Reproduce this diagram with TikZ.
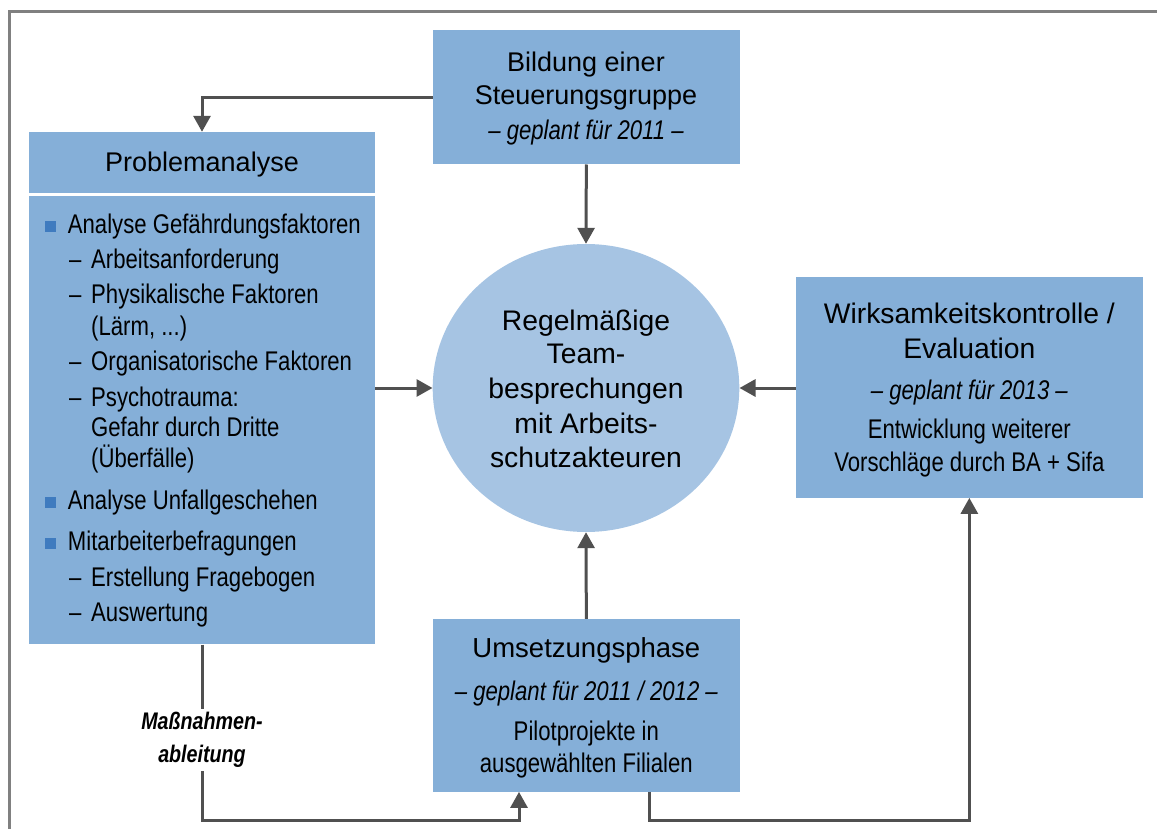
\documentclass[tikz,border=0pt]{standalone}
\usepackage{fontspec}
\setmainfont{Liberation Sans}
\newfontfamily\narrowfont{Liberation Sans}[FakeStretch=0.82]
\usetikzlibrary{arrows.meta,shapes.geometric}

\definecolor{boxblue}{HTML}{85AFD8}
\definecolor{circblue}{HTML}{A6C4E3}
\definecolor{bulletblue}{HTML}{3F7BBF}
\definecolor{arrowgray}{HTML}{505050}
\definecolor{framegray}{HTML}{808080}

\begin{document}
\begin{tikzpicture}[x=1pt,y=-1pt,
  box/.style={rectangle, fill=boxblue, draw=none, inner sep=0pt},
  head/.style={font=\fontsize{27}{27}\selectfont, anchor=base, inner sep=0pt},
  bighead/.style={font=\fontsize{28.3}{28.3}\selectfont, anchor=base, inner sep=0pt},
  plan/.style={font=\fontsize{27}{27}\selectfont\narrowfont\itshape, anchor=base, inner sep=0pt},
  body/.style={font=\fontsize{27}{27}\selectfont\narrowfont, anchor=base, inner sep=0pt},
  item/.style={font=\fontsize{27}{27}\selectfont\narrowfont, anchor=base west, inner sep=0pt},
  flow/.style={draw=arrowgray, line width=3pt, -{Triangle[length=16pt,width=17pt]}},
]
\useasboundingbox (0,0) rectangle (1157,829);

% outer frame
\draw[framegray, line width=3pt] (9.5,829) -- (9.5,11.5) -- (1157,11.5);

% boxes
\node[box, minimum width=307.3pt, minimum height=134.3pt] (bild) at (586.35,97.15) {};
\node[box, minimum width=346pt, minimum height=60.7pt] (ph) at (202,162.35) {};
\node[box, minimum width=346pt, minimum height=448.3pt] (pb) at (202,420.15) {};
\node[box, minimum width=346.7pt, minimum height=220.4pt] (wirk) at (969.35,387.5) {};
\node[box, minimum width=307.3pt, minimum height=172.7pt] (ums) at (586.35,705.35) {};
\node[ellipse, fill=circblue, inner sep=0pt, minimum width=306.6pt, minimum height=288pt] (circ) at (586,388) {};

% texts: Bildung einer Steuerungsgruppe
\node[head] (b1) at (586,71.7) {Bildung einer};
\node[head] (b2) at (586,105) {Steuerungsgruppe};
\node[plan] (b3) at (586,139.3) {– geplant für 2011 –};

% texts: Problemanalyse
\node[head] (p0) at (202,171.7) {Problemanalyse};
\foreach \y in {233.3,509.3,550}
  \fill[bulletblue] (45,\y-12) rectangle (55.5,\y-1.5);
\node[item] (p1) at (67.7,233.3) {Analyse Gefährdungsfaktoren};
\node[item] (d2) at (69,268.3) {–};
\node[item] (p2) at (91,268.3) {Arbeitsanforderung};
\node[item] (d3) at (69,303.3) {–};
\node[item] (p3) at (91,303.3) {Physikalische Faktoren};
\node[item] (p4) at (91,335) {(Lärm, ...)};
\node[item] (d5) at (69,370.7) {–};
\node[item] (p5) at (91,370.7) {Organisatorische Faktoren};
\node[item] (d6) at (69,406) {–};
\node[item] (p6) at (91,406) {Psychotrauma:};
\node[item] (p7) at (91,436.7) {Gefahr durch Dritte};
\node[item] (p8) at (91,467.3) {(Überfälle)};
\node[item] (p9) at (67.7,509.3) {Analyse Unfallgeschehen};
\node[item] (p10) at (67.7,550) {Mitarbeiterbefragungen};
\node[item] (d11) at (69,586) {–};
\node[item] (p11) at (91,586) {Erstellung Fragebogen};
\node[item] (d12) at (69,621.7) {–};
\node[item] (p12) at (91,621.7) {Auswertung};

% texts: centre
\node[bighead] (c1) at (586,330) {Regelmäßige};
\node[bighead] (c2) at (586,363.3) {Team-};
\node[bighead] (c3) at (586,398.3) {besprechungen};
\node[bighead] (c4) at (586,433.3) {mit Arbeits-};
\node[bighead] (c5) at (586,467.7) {schutzakteuren};

% texts: Wirksamkeitskontrolle
\node[bighead] (w1) at (969.35,323.3) {Wirksamkeitskontrolle /};
\node[bighead] (w2) at (969.35,358.3) {Evaluation};
\node[plan] (w3) at (969.35,399.3) {– geplant für 2013 –};
\node[body] (w4) at (969.35,438.3) {Entwicklung weiterer};
\node[body] (w5) at (969.35,471.7) {Vorschläge durch BA + Sifa};

% texts: Umsetzungsphase
\node[head, font=\fontsize{27.5}{27.5}\selectfont] (u1) at (586.35,657) {Umsetzungsphase};
\node[plan] (u2) at (586.35,700) {– geplant für 2011 / 2012 –};
\node[body] (u3) at (586.35,740) {Pilotprojekte in};
\node[body] (u4) at (586.35,772) {ausgewählten Filialen};

% connectors
\coordinate (m1) at (202,820);
\coordinate (m2) at (519,820);
\coordinate (e1) at (649.3,820);
\coordinate (e2) at (969.35,820);

\draw[flow] (bild.west) -| (ph.north);
\draw[flow] (bild.south) -- (circ.north);
\draw[flow] (circ.west -| pb.east) -- (circ.west);
\draw[flow] (circ.east -| wirk.west) -- (circ.east);
\draw[flow] (ums.north) -- (circ.south);
\draw[flow] (pb.south) -- (m1) -- (m2) -- (m2 |- ums.south);
\draw[flow] (e1 |- ums.south) -- (e1) -- (e2) -- (wirk.south);

% label on the left connector
\node[fill=white, inner sep=3pt, align=center,
      font=\fontsize{24}{33}\selectfont\narrowfont\bfseries\itshape] (lbl) at (202,740)
  {Maßnahmen-\\ableitung};
\end{tikzpicture}
\end{document}
